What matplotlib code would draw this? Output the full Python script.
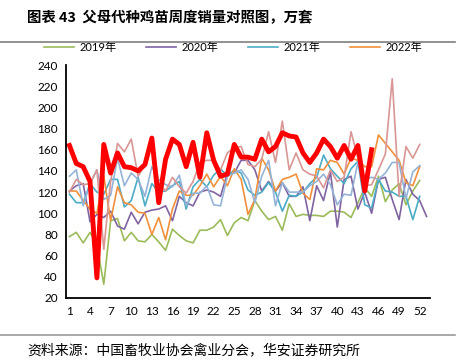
import matplotlib.pyplot as plt
from matplotlib.lines import Line2D

plt.rcParams['font.family'] = ['Lato', 'Noto Sans CJK SC', 'DejaVu Sans']

weeks = list(range(1, 54))

y2019 = [78, 82, 72, 82, 70, 33, 93, 95, 74, 82, 74, 73, 80, 73, 65, 85, 79, 74, 72, 84,
         84, 87, 94, 79, 91, 96, 93, 112, 102, 94, 97, 84, 109, 97, 99, 98, 98, 97, 102, 102,
         101, 96, 110, 124, 116, 135, 111, 122, 128, 108, 121, 131]
y2020 = [121, 126, 128, 92, 99, 96, 102, 88, 85, 101, 90, 101, 103, 104, 107, 93, 116, 110, 107, 120,
         122, 120, 116, 138, 138, 150, 150, 141, 121, 130, 121, 129, 116, 116, 125, 93, 126, 112, 139, 87,
         132, 135, 104, 120, 100, 132, 134, 113, 94, 132, 118, 112, 97]
y2021 = [118, 110, 110, 128, 120, 118, 132, 132, 106, 112, 134, 107, 128, 120, 121, 126, 130, 104, 125, 132,
         125, 136, 142, 135, 141, 138, 122, 117, 120, 129, 120, 102, 117, 116, 120, 128, 134, 155, 142, 135,
         128, 142, 149, 108, 105, 132, 121, 120, 116, 116, 94, 116]
y2022 = [121, 121, 112, 104, 100, 135, 93, 125, 110, 108, 101, 100, 80, 96, 75, 104, 121, 117, 117, 126,
         137, 125, 135, 126, 142, 132, 99, 113, 152, 141, 121, 132, 134, 137, 119, 113, 142, 141, 150, 148,
         137, 152, 150, 144, 144, 174, 166, 158, 150, 129, 126, 144]
y2023 = [135, 141, 107, 128, 141, 113, 117, 152, 126, 138, 132, 116, 144, 132, 127, 125, 136, 107, 119, 119,
         126, 108, 107, 135, 138, 141, 132, 110, 135, 150, 107, 129, 120, 120, 120, 126, 130, 137, 127, 108,
         118, 117, 148, 132, 134, 132, 138, 148, 148, 114, 139, 145]
y2024 = [120, 132, 127, 128, 141, 66, 130, 166, 158, 170, 135, 146, 170, 128, 121, 134, 125, 119, 130, 148,
         150, 150, 141, 157, 162, 163, 146, 144, 151, 177, 148, 187, 141, 157, 141, 137, 135, 124, 141, 130,
         134, 177, 152, 126, 127, 141, 156, 227, 116, 163, 152, 165]
y2025 = [164, 147, 144, 130, 39, 165, 138, 157, 144, 143, 140, 146, 171, 110, 151, 170, 165, 144, 167, 134,
         176, 150, 135, 137, 165, 153, 153, 151, 170, 158, 163, 176, 173, 172, 157, 148, 157, 170, 163, 152,
         164, 151, 164, 121, 160]

labels = ['2019年', '2020年', '2021年', '2022年']

fig = plt.figure(figsize=(4.64, 3.61), dpi=100)
ax = fig.add_axes([66 / 464, 1 - 298 / 361, (430 - 66) / 464, (298 - 65) / 361])

thin = 1.2
l1, = ax.plot(weeks[:len(y2019)], y2019, color='#9BBB59', lw=thin)
l2, = ax.plot(weeks[:len(y2020)], y2020, color='#8064A2', lw=thin)
l3, = ax.plot(weeks[:len(y2021)], y2021, color='#4BACC6', lw=thin)
l4, = ax.plot(weeks[:len(y2022)], y2022, color='#F0903C', lw=thin)
ax.plot(weeks[:len(y2023)], y2023, color='#95B3D7', lw=thin)
ax.plot(weeks[:len(y2024)], y2024, color='#D99694', lw=thin)
ax.plot(weeks[:len(y2025)], y2025, color='#FF0000', lw=3.5)

ax.set_xlim(0.5, 53.5)
ax.set_ylim(20, 240)
ax.set_xticks(range(1, 54, 3))
ax.set_yticks(range(20, 241, 20))
ax.tick_params(length=0, labelsize=8.5, pad=6)
ax.spines['top'].set_visible(False)
ax.spines['right'].set_visible(False)
ax.spines['left'].set_linewidth(1.3)
ax.spines['bottom'].set_linewidth(1.3)

fig.legend([l1, l2, l3, l4], labels, loc='center', bbox_to_anchor=(233 / 464, 1 - 47 / 361),
           ncol=4, frameon=False, fontsize=8, handlelength=2.7, columnspacing=2.7, handletextpad=0.45)

fig.text(27 / 464, 1 - 18 / 361, '图表 43  父母代种鸡苗周度销量对照图，万套', fontsize=10.4,
         fontweight='bold', va='center', ha='left', family=['Noto Sans CJK SC'])
fig.text(27 / 464, 1 - 350 / 361, '资料来源：中国畜牧业协会禽业分会，华安证券研究所', fontsize=10,
         va='center', ha='left', family=['Noto Sans CJK SC'])

fig.add_artist(Line2D([0, 455 / 464], [1 - 42 / 361] * 2, color='#7f7f7f', lw=1.2))
fig.add_artist(Line2D([0, 455 / 464], [1 - 335 / 361] * 2, color='#9a9a9a', lw=1.2))

fig.savefig('out.png', dpi=100)
